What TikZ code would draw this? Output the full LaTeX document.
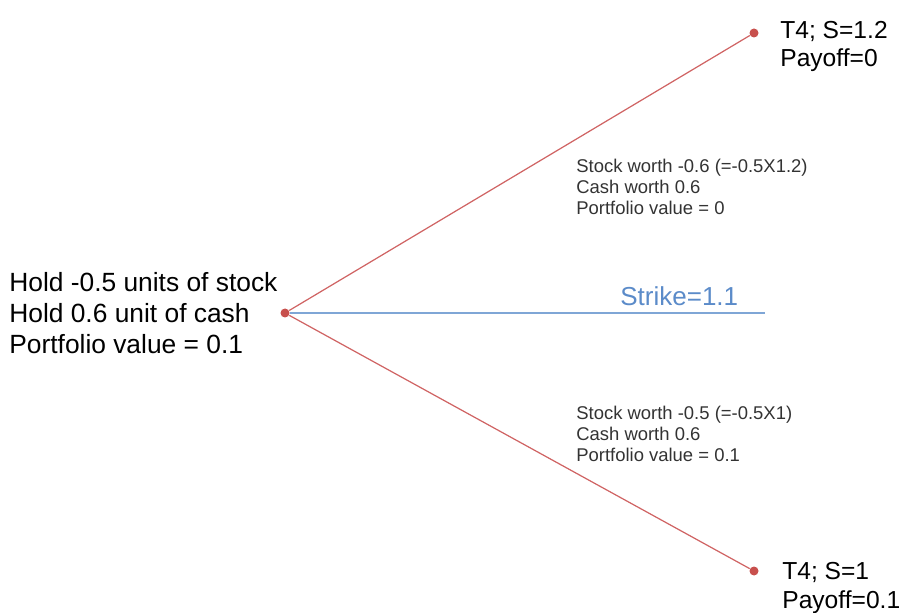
\documentclass[tikz,border=0pt]{standalone}
\usepackage{xcolor}
\usepackage{fontspec}
\setmainfont{Liberation Sans}
\usepackage{tikz}
\usetikzlibrary{arrows.meta,positioning,calc}

\definecolor{branchred}{HTML}{D06464}
\definecolor{dotred}{HTML}{C8504D}
\definecolor{strikeblue}{HTML}{7FA6D6}
\definecolor{strikelabel}{HTML}{5B8BC9}
\definecolor{notegray}{HTML}{333333}

\begin{document}
\begin{tikzpicture}[x=0.02cm,y=0.02cm,
    state/.style={circle,fill=dotred,inner sep=0pt,minimum size=0.18cm},
    branch/.style={branchred,line width=0.7pt},
    bigtext/.style={align=left,inner sep=0pt,font=\fontsize{15}{17.6}\selectfont},
    leaftext/.style={align=left,inner sep=0pt,font=\fontsize{14}{15.6}\selectfont},
    note/.style={align=left,inner sep=0pt,text=notegray,font=\fontsize{10.5}{12}\selectfont}]
  \useasboundingbox (0,0) rectangle (909,612);
  % tree nodes
  \node[state] (root) at (285,299) {};
  \node[state] (up) at (754,579) {};
  \node[state] (down) at (754,41) {};
  \coordinate (strikeend) at (765,299);
  % strike level
  \draw[strikeblue,line width=1pt] (root) -- (strikeend);
  \node[anchor=base west,inner sep=0pt,text=strikelabel,font=\fontsize{14.8}{16}\selectfont]
    (strike) at (620,306) {Strike=1.1};
  % branches
  \draw[branch] (root) -- (up);
  \draw[branch] (root) -- (down);
  % portfolio at start
  \node[bigtext,anchor=west] (hold) at (9,299)
    {Hold -0.5 units of stock\\Hold 0.6 unit of cash\\Portfolio value = 0.1};
  % leaf labels
  \node[leaftext,anchor=west] (uplabel) at (780,565.5) {T4; S=1.2\\Payoff=0};
  \node[leaftext,anchor=west,font=\fontsize{14}{17}\selectfont] (downlabel) at (782,24)
    {T4; S=1\\Payoff=0.1};
  % portfolio at T4
  \node[note,anchor=west] (upnote) at (576,425)
    {Stock worth -0.6 (=-0.5X1.2)\\Cash worth 0.6\\Portfolio value = 0};
  \node[note,anchor=west] (downnote) at (576,178)
    {Stock worth -0.5 (=-0.5X1)\\Cash worth 0.6\\Portfolio value = 0.1};
\end{tikzpicture}
\end{document}
